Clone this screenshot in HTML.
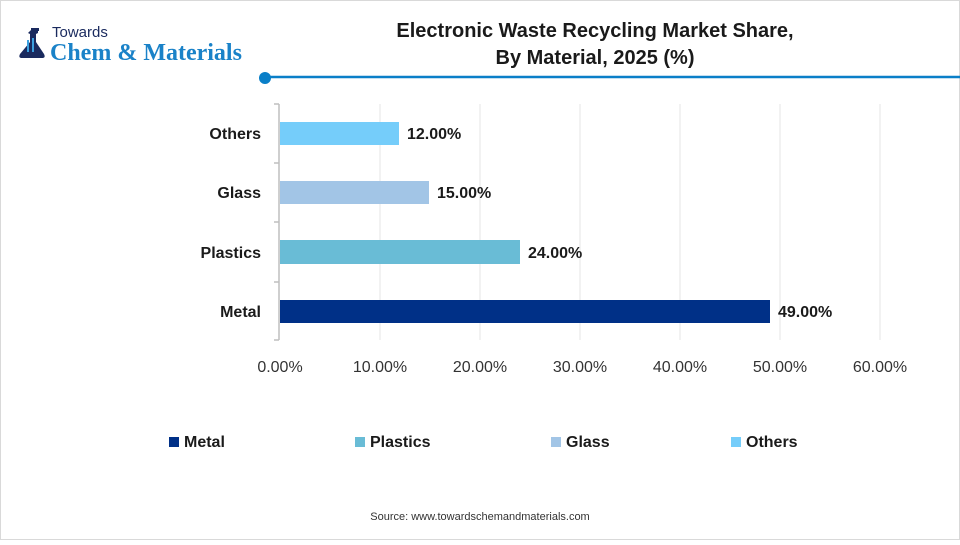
<!DOCTYPE html>
<html><head><style>
body{margin:0;width:960px;height:540px;background:#fff;overflow:hidden;font-family:"Liberation Sans",Arial,sans-serif}
</style></head><body>
<svg width="960" height="540" xmlns="http://www.w3.org/2000/svg" font-family="Liberation Sans, Arial, sans-serif">
<rect x="0.5" y="0.5" width="959" height="539" fill="#fff" stroke="#d9d9d9"/>
<!-- logo -->
<path d="M32 29h6v4l-2 1v8l8 12q2 4-2 4H22q-4 0-2-4l10-12v-8l-2-1z" fill="#1a2a5e"/>
<rect x="31" y="28" width="8" height="3" fill="#1a2a5e"/>
<path d="M28 40v12M33 38v14" stroke="#3ba0e0" stroke-width="2"/>
<text x="52" y="37" font-size="15" fill="#1a2a5e">Towards</text>
<text x="50" y="60" font-size="24" font-weight="bold" fill="#1a82c8" font-family="Liberation Serif, serif">Chem &amp; Materials</text>
<line x1="265" y1="77" x2="960" y2="77" stroke="#0a7fc8" stroke-width="2.5"/>
<circle cx="265" cy="78" r="6" fill="#0a7fc8"/>
<text x="595" y="37" font-size="20" font-weight="bold" text-anchor="middle" fill="#1a1a1a">Electronic Waste Recycling Market Share,</text>
<text x="595" y="64" font-size="20" font-weight="bold" text-anchor="middle" fill="#1a1a1a">By Material, 2025 (%)</text>
<!-- grid -->
<g stroke="#e6e6e6" stroke-width="1">
<line x1="380" y1="104" x2="380" y2="340"/><line x1="480" y1="104" x2="480" y2="340"/><line x1="580" y1="104" x2="580" y2="340"/><line x1="680" y1="104" x2="680" y2="340"/><line x1="780" y1="104" x2="780" y2="340"/><line x1="880" y1="104" x2="880" y2="340"/>
</g>
<g stroke="#bfbfbf" stroke-width="1.5">
<line x1="279" y1="104" x2="279" y2="340"/>
<line x1="274" y1="104" x2="279" y2="104"/><line x1="274" y1="163" x2="279" y2="163"/><line x1="274" y1="222" x2="279" y2="222"/><line x1="274" y1="282" x2="279" y2="282"/><line x1="274" y1="340" x2="279" y2="340"/>
</g>
<rect x="280" y="122" width="119" height="23" fill="#75cdfa"/>
<rect x="280" y="181" width="149" height="23" fill="#a2c5e6"/>
<rect x="280" y="240" width="240" height="24" fill="#69bcd6"/>
<rect x="280" y="300" width="490" height="23" fill="#003087"/>
<g font-size="16" font-weight="bold" fill="#1a1a1a">
<text x="261" y="139" text-anchor="end">Others</text>
<text x="261" y="198" text-anchor="end">Glass</text>
<text x="261" y="258" text-anchor="end">Plastics</text>
<text x="261" y="317" text-anchor="end">Metal</text>
<text x="407" y="139">12.00%</text>
<text x="437" y="198">15.00%</text>
<text x="528" y="258">24.00%</text>
<text x="778" y="317">49.00%</text>
</g>
<g font-size="16" fill="#333" text-anchor="middle">
<text x="280" y="372">0.00%</text><text x="380" y="372">10.00%</text><text x="480" y="372">20.00%</text><text x="580" y="372">30.00%</text><text x="680" y="372">40.00%</text><text x="780" y="372">50.00%</text><text x="880" y="372">60.00%</text>
</g>
<g font-size="16" font-weight="bold" fill="#1a1a1a">
<rect x="169" y="437" width="10" height="10" fill="#003087"/><text x="184" y="447">Metal</text>
<rect x="355" y="437" width="10" height="10" fill="#69bcd6"/><text x="370" y="447">Plastics</text>
<rect x="551" y="437" width="10" height="10" fill="#a2c5e6"/><text x="566" y="447">Glass</text>
<rect x="731" y="437" width="10" height="10" fill="#75cdfa"/><text x="746" y="447">Others</text>
</g>
<text x="480" y="520" font-size="11" text-anchor="middle" fill="#333">Source: www.towardschemandmaterials.com</text>
</svg>
</body></html>
